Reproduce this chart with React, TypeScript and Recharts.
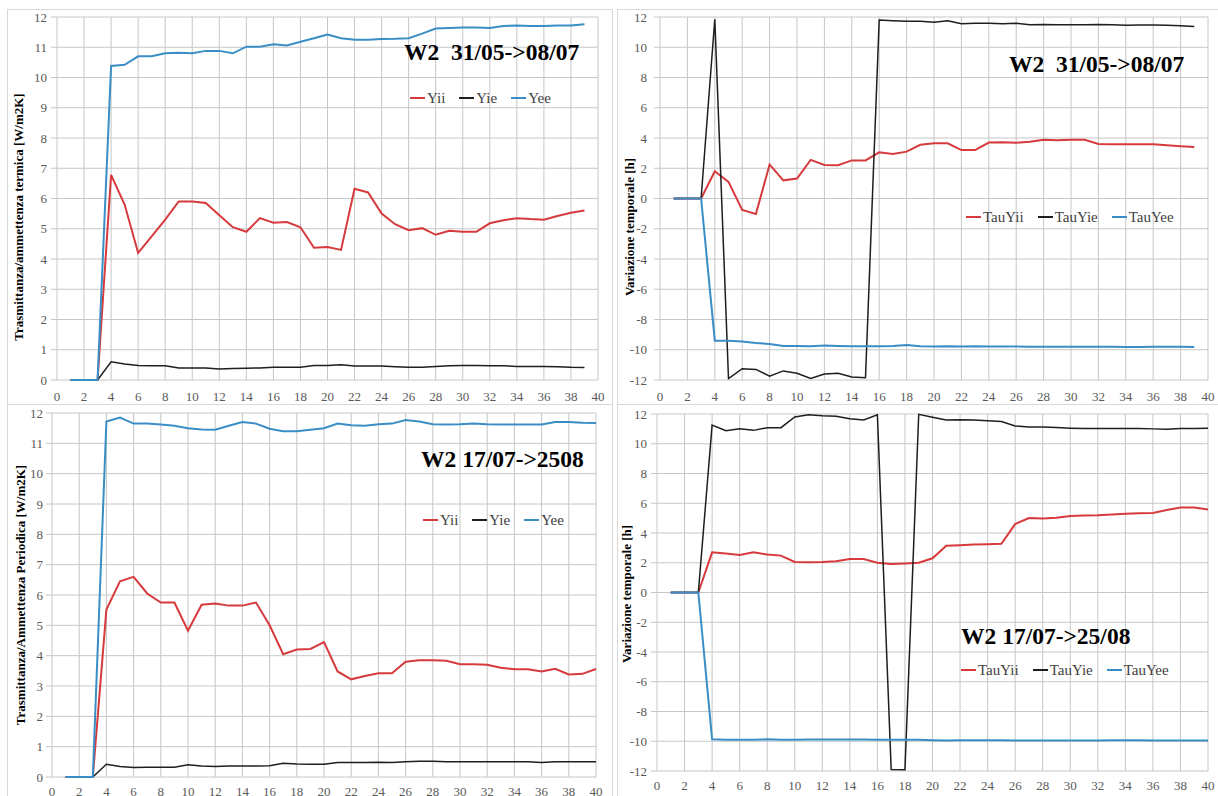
import { LineChart, Line, XAxis, YAxis, CartesianGrid, Legend } from "recharts";

const FONT = '"Liberation Serif", "Times New Roman", serif';
const RED = "#d63a3c";
const BLACK = "#1e1e1e";
const BLUE = "#3a8ec6";
const GRID = "#c6c6c6";
const TICK = "#595959";

const xTicks = [0, 2, 4, 6, 8, 10, 12, 14, 16, 18, 20, 22, 24, 26, 28, 30, 32, 34, 36, 38, 40];
const yTicksY = [0, 1, 2, 3, 4, 5, 6, 7, 8, 9, 10, 11, 12];
const yTicksTau = [-12, -10, -8, -6, -4, -2, 0, 2, 4, 6, 8, 10, 12];

const xTop = [1, 2, 3, 4, 5, 6, 7, 8, 9, 10, 11, 12, 13, 14, 15, 16, 17, 18, 19, 20, 21, 22, 23, 24, 25, 26, 27, 28, 29, 30, 31, 32, 33, 34, 35, 36, 37, 38, 39];
const xBottom = [1, 2, 3, 4, 5, 6, 7, 8, 9, 10, 11, 12, 13, 14, 15, 16, 17, 18, 19, 20, 21, 22, 23, 24, 25, 26, 27, 28, 29, 30, 31, 32, 33, 34, 35, 36, 37, 38, 39, 40];

// W2 31/05->08/07 admittances
const yii1 = [0, 0, 0, 6.78, 5.8, 4.2, 4.75, 5.3, 5.9, 5.9, 5.85, 5.45, 5.05, 4.9, 5.35, 5.2, 5.22, 5.05, 4.37, 4.4, 4.3, 6.32, 6.2, 5.5, 5.15, 4.95, 5.02, 4.8, 4.93, 4.9, 4.9, 5.18, 5.28, 5.35, 5.32, 5.3, 5.42, 5.53, 5.6];
const yie1 = [0, 0, 0, 0.6, 0.53, 0.48, 0.47, 0.47, 0.4, 0.4, 0.4, 0.36, 0.38, 0.39, 0.4, 0.42, 0.42, 0.42, 0.48, 0.48, 0.5, 0.46, 0.46, 0.46, 0.44, 0.42, 0.42, 0.45, 0.47, 0.48, 0.48, 0.47, 0.47, 0.45, 0.45, 0.45, 0.44, 0.42, 0.41];
const yee1 = [0, 0, 0, 10.38, 10.42, 10.7, 10.7, 10.8, 10.82, 10.8, 10.88, 10.88, 10.8, 11.02, 11.02, 11.1, 11.06, 11.18, 11.3, 11.42, 11.3, 11.25, 11.25, 11.27, 11.28, 11.3, 11.45, 11.62, 11.64, 11.65, 11.65, 11.64, 11.7, 11.72, 11.7, 11.7, 11.72, 11.72, 11.76];

// W2 31/05->08/07 time shifts
const tauYii2 = [0, 0, 0, 1.8, 1.1, -0.75, -1.02, 2.25, 1.2, 1.32, 2.55, 2.22, 2.2, 2.52, 2.52, 3.05, 2.95, 3.1, 3.55, 3.65, 3.65, 3.2, 3.2, 3.7, 3.72, 3.68, 3.75, 3.88, 3.85, 3.88, 3.88, 3.6, 3.58, 3.58, 3.58, 3.58, 3.52, 3.45, 3.4];
const tauYie2 = [0, 0, 0, 11.85, -11.9, -11.25, -11.3, -11.75, -11.4, -11.55, -11.9, -11.6, -11.55, -11.8, -11.85, 11.8, 11.75, 11.72, 11.72, 11.65, 11.75, 11.55, 11.58, 11.58, 11.55, 11.58, 11.48, 11.5, 11.48, 11.48, 11.48, 11.5, 11.48, 11.45, 11.47, 11.47, 11.45, 11.42, 11.38];
const tauYee2 = [0, 0, 0, -9.4, -9.4, -9.45, -9.55, -9.62, -9.75, -9.75, -9.77, -9.72, -9.75, -9.77, -9.77, -9.77, -9.75, -9.68, -9.77, -9.78, -9.77, -9.78, -9.77, -9.78, -9.78, -9.78, -9.8, -9.8, -9.8, -9.8, -9.8, -9.8, -9.8, -9.82, -9.82, -9.8, -9.8, -9.8, -9.82];

// W2 17/07->25/08 admittances
const yii3 = [0, 0, 0, 5.52, 6.45, 6.6, 6.05, 5.75, 5.75, 4.82, 5.68, 5.72, 5.65, 5.65, 5.75, 5.0, 4.05, 4.2, 4.22, 4.45, 3.48, 3.22, 3.33, 3.42, 3.42, 3.8, 3.85, 3.85, 3.83, 3.72, 3.72, 3.7, 3.6, 3.55, 3.55, 3.48, 3.57, 3.38, 3.4, 3.56];
const yie3 = [0, 0, 0, 0.42, 0.35, 0.31, 0.32, 0.32, 0.32, 0.4, 0.36, 0.35, 0.36, 0.36, 0.36, 0.37, 0.45, 0.43, 0.42, 0.42, 0.48, 0.48, 0.48, 0.49, 0.48, 0.5, 0.52, 0.52, 0.5, 0.5, 0.5, 0.5, 0.5, 0.5, 0.5, 0.48, 0.5, 0.5, 0.5, 0.5];
const yee3 = [0, 0, 0, 11.72, 11.85, 11.65, 11.65, 11.62, 11.58, 11.5, 11.46, 11.45, 11.58, 11.7, 11.65, 11.48, 11.4, 11.4, 11.45, 11.5, 11.65, 11.6, 11.58, 11.63, 11.65, 11.77, 11.72, 11.63, 11.62, 11.63, 11.65, 11.63, 11.62, 11.62, 11.62, 11.62, 11.7, 11.7, 11.68, 11.67];

// W2 17/07->25/08 time shifts
const tauYii4 = [0, 0, 0, 2.7, 2.62, 2.52, 2.7, 2.55, 2.48, 2.05, 2.03, 2.05, 2.1, 2.25, 2.25, 2.0, 1.92, 1.95, 2.0, 2.3, 3.15, 3.18, 3.22, 3.25, 3.28, 4.6, 5.0, 4.97, 5.03, 5.15, 5.18, 5.2, 5.25, 5.3, 5.32, 5.35, 5.55, 5.72, 5.72, 5.58];
const tauYie4 = [0, 0, 0, 11.25, 10.88, 11.0, 10.9, 11.08, 11.08, 11.8, 11.95, 11.88, 11.85, 11.68, 11.6, 11.95, -11.9, -11.92, 11.98, 11.78, 11.6, 11.62, 11.6, 11.55, 11.5, 11.2, 11.12, 11.12, 11.1, 11.05, 11.02, 11.02, 11.02, 11.02, 11.02, 11.0, 10.98, 11.02, 11.02, 11.05];
const tauYee4 = [0, 0, 0, -9.87, -9.9, -9.9, -9.9, -9.87, -9.9, -9.9, -9.88, -9.88, -9.88, -9.88, -9.88, -9.9, -9.9, -9.9, -9.9, -9.93, -9.95, -9.93, -9.93, -9.93, -9.93, -9.95, -9.95, -9.95, -9.95, -9.95, -9.95, -9.95, -9.93, -9.93, -9.93, -9.95, -9.95, -9.95, -9.95, -9.95];

const toRows = (xs: number[], a: number[], b: number[], c: number[]) =>
  xs.map((x, i) => ({ x, a: a[i], b: b[i], c: c[i] }));

// legend in series order (recharts sorts by name otherwise)
const LegendRow = ({ payload, order }: any) => {
  const items = [...(payload || [])].sort(
    (p: any, q: any) => order.indexOf(p.value) - order.indexOf(q.value)
  );
  return (
    <div style={{ display: "flex", fontFamily: FONT, fontSize: 15, color: "#404040", lineHeight: "20px", whiteSpace: "nowrap" }}>
      {items.map((p: any) => (
        <div key={p.value} style={{ display: "flex", alignItems: "center", marginRight: 14 }}>
          <span style={{ display: "inline-block", width: 15, height: 2, background: p.color, marginRight: 2 }} />
          <span>{p.value}</span>
        </div>
      ))}
    </div>
  );
};

type PanelProps = {
  left: number;
  top: number;
  width: number;
  height: number;
  margin: { top: number; right: number; bottom: number; left: number };
  xHeight: number;
  xMargin: number;
  yMargin: number;
  rows: any[];
  names: string[];
  yDomain: [number, number];
  yTicks: number[];
  legendLeft: number;
  legendTop: number;
};

function Panel(p: PanelProps) {
  const tick = { fill: TICK, fontSize: 13, fontFamily: FONT };
  return (
    <div style={{ position: "absolute", left: p.left, top: p.top }}>
      <LineChart width={p.width} height={p.height} data={p.rows} margin={p.margin}>
        <CartesianGrid stroke={GRID} />
        <XAxis
          type="number"
          dataKey="x"
          domain={[0, 40]}
          ticks={xTicks}
          interval={0}
          axisLine={false}
          tickLine={false}
          tick={tick}
          height={p.xHeight}
          tickMargin={p.xMargin}
        />
        <YAxis
          type="number"
          domain={p.yDomain}
          ticks={p.yTicks}
          interval={0}
          width={30}
          axisLine={false}
          tickLine={{ stroke: GRID }}
          tickSize={6}
          tickMargin={p.yMargin}
          tick={tick}
        />
        <Legend
          layout="horizontal"
          verticalAlign="middle"
          align="center"
          wrapperStyle={{ left: p.legendLeft, top: p.legendTop, width: "auto" }}
          content={<LegendRow order={p.names} />}
        />
        <Line type="linear" dataKey="a" name={p.names[0]} stroke={RED} strokeWidth={2} dot={false} isAnimationActive={false} />
        <Line type="linear" dataKey="b" name={p.names[1]} stroke={BLACK} strokeWidth={1.5} dot={false} isAnimationActive={false} />
        <Line type="linear" dataKey="c" name={p.names[2]} stroke={BLUE} strokeWidth={2} dot={false} isAnimationActive={false} />
      </LineChart>
    </div>
  );
}

const titleStyle = (left: number, cy: number) => ({
  position: "absolute" as const,
  left,
  top: cy,
  transform: "translateY(-50%)",
  fontFamily: FONT,
  fontWeight: 700,
  fontSize: 23.5,
  color: "#000",
  whiteSpace: "pre" as const,
  lineHeight: 1,
});

const yLabelStyle = (cx: number, cy: number) => ({
  position: "absolute" as const,
  left: cx,
  top: cy,
  transform: "translate(-50%, -50%) rotate(-90deg)",
  fontFamily: FONT,
  fontWeight: 700,
  fontSize: 13,
  color: "#000",
  whiteSpace: "nowrap" as const,
  lineHeight: 1,
});

const boxStyle = (left: number, top: number, width: number, height: number) => ({
  position: "absolute" as const,
  left,
  top,
  width,
  height,
  border: "1px solid #d9d9d9",
  boxSizing: "border-box" as const,
});

export default function App() {
  return (
    <div style={{ position: "absolute", left: 0, top: 0, width: 1218, height: 796, background: "#fff", overflow: "hidden" }}>
      <div style={boxStyle(7, 9, 606, 396)} />
      <div style={boxStyle(617, 9, 610, 396)} />
      <div style={boxStyle(7, 404, 606, 400)} />
      <div style={boxStyle(617, 404, 610, 400)} />

      <Panel
        left={7} top={9} width={605} height={395}
        margin={{ top: 8, right: 14, bottom: 4, left: 20 }}
        xHeight={20} xMargin={6} yMargin={4}
        rows={toRows(xTop, yii1, yie1, yee1)}
        names={["Yii", "Yie", "Yee"]}
        yDomain={[0, 12]} yTicks={yTicksY}
        legendLeft={403} legendTop={79}
      />
      <Panel
        left={617} top={9} width={601} height={395}
        margin={{ top: 8, right: 10, bottom: 4, left: 13 }}
        xHeight={20} xMargin={6} yMargin={7}
        rows={toRows(xTop, tauYii2, tauYie2, tauYee2)}
        names={["TauYii", "TauYie", "TauYee"]}
        yDomain={[-12, 12]} yTicks={yTicksTau}
        legendLeft={349} legendTop={198}
      />
      <Panel
        left={7} top={404} width={605} height={392}
        margin={{ top: 9, right: 16, bottom: 0, left: 15 }}
        xHeight={19} xMargin={4} yMargin={3}
        rows={toRows(xBottom, yii3, yie3, yee3)}
        names={["Yii", "Yie", "Yee"]}
        yDomain={[0, 12]} yTicks={yTicksY}
        legendLeft={416} legendTop={106}
      />
      <Panel
        left={617} top={404} width={601} height={392}
        margin={{ top: 10, right: 10, bottom: 5, left: 10 }}
        xHeight={20} xMargin={4} yMargin={4}
        rows={toRows(xBottom, tauYii4, tauYie4, tauYee4)}
        names={["TauYii", "TauYie", "TauYee"]}
        yDomain={[-12, 12]} yTicks={yTicksTau}
        legendLeft={344} legendTop={256}
      />

      <div style={titleStyle(404, 53)}>{"W2  31/05->08/07"}</div>
      <div style={titleStyle(1009, 65)}>{"W2  31/05->08/07"}</div>
      <div style={titleStyle(421, 460)}>{"W2 17/07->2508"}</div>
      <div style={titleStyle(961, 637)}>{"W2 17/07->25/08"}</div>

      <div style={yLabelStyle(18, 217)}>Trasmittanza/ammettenza termica [W/m2K]</div>
      <div style={yLabelStyle(629, 227)}>Variazione temporale [h]</div>
      <div style={yLabelStyle(20, 595)}>Trasmittanza/Ammettenza Periodica [W/m2K]</div>
      <div style={yLabelStyle(626, 594)}>Variazione temporale [h]</div>
    </div>
  );
}
